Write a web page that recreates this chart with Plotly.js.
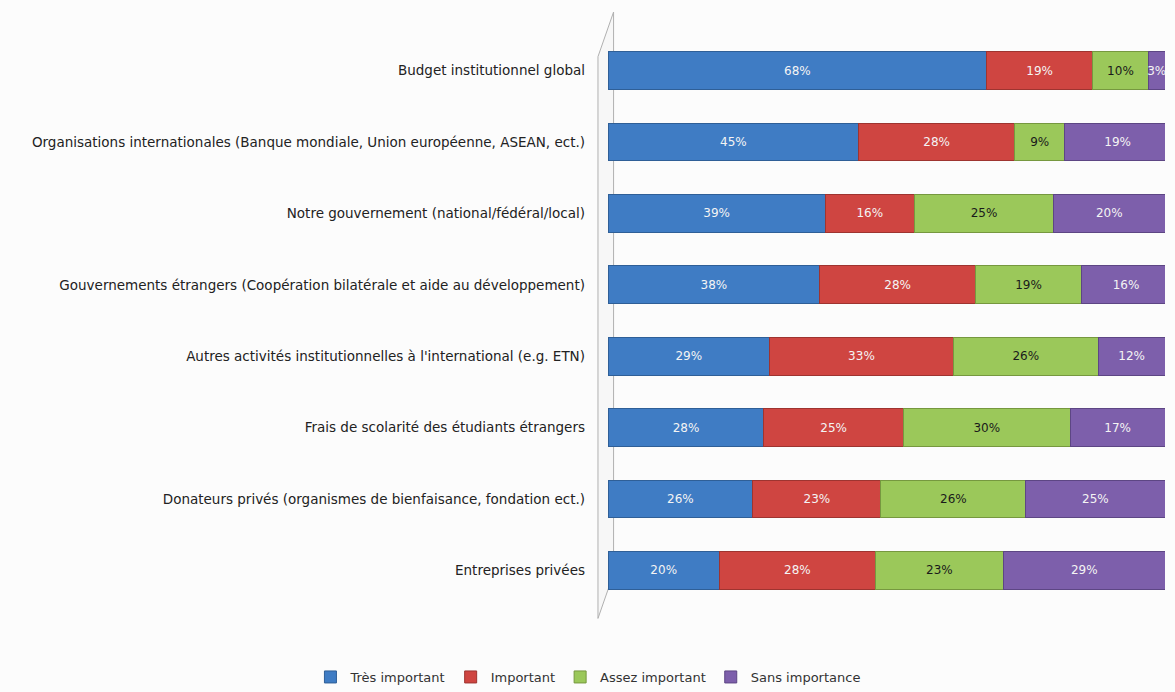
<!DOCTYPE html>
<html>
<head>
<meta charset="utf-8">
<script src="https://cdn.plot.ly/plotly-3.0.1.min.js"></script>
<style>html,body{margin:0;padding:0;background:#fcfcfc;}#chart{width:1175px;height:692px;}</style>
</head>
<body>
<div id="chart"></div>
<script>
const categories = [
  "Budget institutionnel global",
  "Organisations internationales (Banque mondiale, Union européenne, ASEAN, ect.)",
  "Notre gouvernement (national/fédéral/local)",
  "Gouvernements étrangers (Coopération bilatérale et aide au développement)",
  "Autres activités institutionnelles à l'international (e.g. ETN)",
  "Frais de scolarité des étudiants étrangers",
  "Donateurs privés (organismes de bienfaisance, fondation ect.)",
  "Entreprises privées"
];
const seriesNames = ["Très important", "Important", "Assez important", "Sans importance"];
const tresImportant  = [68, 45, 39, 38, 29, 28, 26, 20];
const important      = [19, 28, 16, 28, 33, 25, 23, 28];
const assezImportant = [10,  9, 25, 19, 26, 30, 26, 23];
const sansImportance = [ 3, 19, 20, 16, 12, 17, 25, 29];

const colors = ["#3f7cc4", "#cf4541", "#9bc85a", "#7d5fab"];
const textColors = ["#f4f4f4", "#f4f4f4", "#1a1a1a", "#f4f4f4"];
const borders = ["#2f5f97", "#9e3430", "#76983f", "#5d4684"];
const values = [tresImportant, important, assezImportant, sansImportance];
const FONT = "DejaVu Sans, Verdana, sans-serif";

const traces = values.map((v, i) => ({
  type: "bar",
  orientation: "h",
  name: seriesNames[i],
  y: categories,
  x: v,
  text: v.map(d => d + "%"),
  textposition: "inside",
  insidetextanchor: "middle",
  textangle: 0,
  constraintext: "none",
  textfont: {family: FONT, size: 12, color: textColors[i]},
  marker: {color: colors[i], line: {color: borders[i], width: 1}},
  hoverinfo: "x+y+name"
}));

const layout = {
  width: 1175, height: 692,
  paper_bgcolor: "#fcfcfc", plot_bgcolor: "#fcfcfc",
  barmode: "stack",
  bargap: 0.47,
  margin: {l: 608, r: 10, t: 35, b: 0},
  font: {family: FONT, size: 13, color: "#222"},
  xaxis: {range: [0, 100], visible: false, showgrid: false, zeroline: false, fixedrange: true},
  yaxis: {domain: [0.1309, 1], autorange: "reversed", showgrid: false, zeroline: false, showline: false, ticks: "",
          ticklabelstandoff: 22, tickfont: {family: FONT, size: 13.5, color: "#222"}, fixedrange: true},
  legend: {orientation: "h", x: -0.036, xanchor: "center", y: 0.0, yanchor: "bottom",
           font: {family: FONT, size: 13, color: "#333"}, itemwidth: 30, traceorder: "normal"},
  showlegend: true,
  shapes: [
    {type: "path", xref: "paper", yref: "paper",
     path: "M -0.018 0.112 L -0.018 0.967 L 0.01 1.035 L 0.01 0.18 Z",
     line: {color: "#b0b0b0", width: 1}, fillcolor: "rgba(240,240,240,0.4)", layer: "below"}
  ]
};

Plotly.newPlot("chart", traces, layout, {displayModeBar: false, staticPlot: true});
</script>
</body>
</html>
